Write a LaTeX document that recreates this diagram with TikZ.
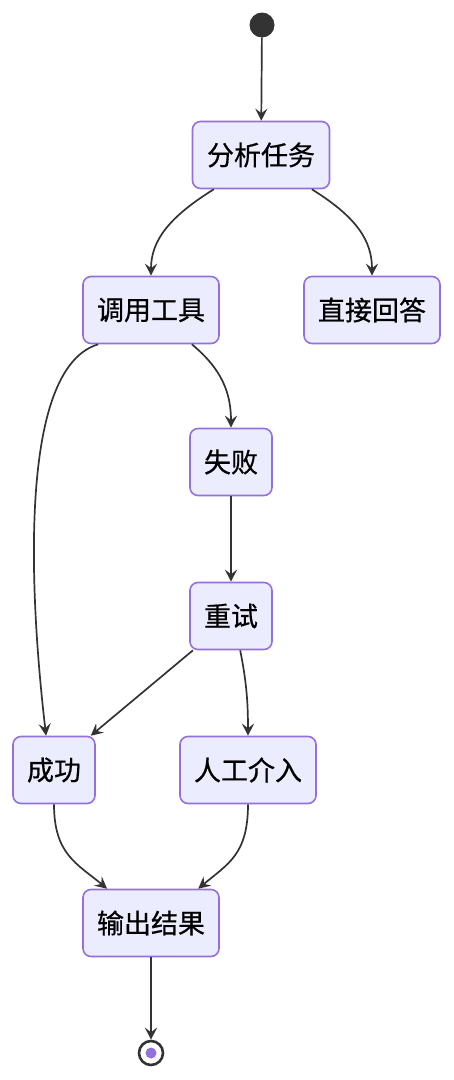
\documentclass[tikz,border=0pt]{standalone}
\usepackage{fontspec}
\newfontfamily\cjk[FakeBold=0.6]{Noto Sans CJK SC}
\usepackage{tikz}
\usetikzlibrary{arrows.meta}
\definecolor{boxfill}{HTML}{ECECFF}
\definecolor{boxline}{HTML}{9370DB}
\definecolor{edgeline}{HTML}{333333}
\begin{document}
\begin{tikzpicture}[x = 1pt, y = -1pt,
  stbox/.style = {draw = boxline, fill = boxfill, line width = 1.6pt, rounded corners = 8pt,
    minimum height = 67pt, inner sep = 0pt, font = \cjk\fontsize{27}{30}\selectfont, text = black},
  flow/.style = {draw = edgeline, line width = 1.7pt, -{Stealth[length = 12pt, width = 12pt, inset = 4.5pt]}}]
\useasboundingbox (0,0) rectangle (454,1080);
% start and end
\node[circle, fill = edgeline, minimum size = 25pt, inner sep = 0pt] (start) at (262,25) {};
\node[circle, draw = edgeline, fill = white, line width = 2.6pt, minimum size = 24pt, inner sep = 0pt] (stop) at (151,1053) {};
\fill[boxline] (stop.center) circle (5.5pt);
% states
\node[stbox, minimum width = 137pt] (fenxi) at (261,155) {分析任务};
\node[stbox, minimum width = 136pt] (diaoyong) at (151,310) {调用工具};
\node[stbox, minimum width = 136pt] (zhijie) at (372,310) {直接回答};
\node[stbox, minimum width = 82pt] (shibai) at (231,462) {失败};
\node[stbox, minimum width = 82pt] (chongshi) at (231,616) {重试};
\node[stbox, minimum width = 82pt] (chenggong) at (54,770) {成功};
\node[stbox, minimum width = 136pt] (rengong) at (248,770) {人工介入};
\node[stbox, minimum width = 136pt] (shuchu) at (151,923) {输出结果};
% transitions
\draw[flow] (start) -- (fenxi);
\draw[flow] (fenxi.216) .. controls +(-45,28) and +(0,-35) .. (diaoyong.north);
\draw[flow] (fenxi.326) .. controls +(45,28) and +(0,-35) .. (zhijie.north);
\draw[flow] (diaoyong.213) .. controls +(-90,27) and +(-10,-86) .. (chenggong.103);
\draw[flow] (diaoyong.320) .. controls +(30,25) and +(0,-35) .. (shibai.north);
\draw[flow] (shibai) -- (chongshi);
\draw[flow] (chongshi.222) -- (chenggong.43);
\draw[flow] (chongshi.285) .. controls +(6,30) and +(0,-35) .. (rengong.north);
\draw[flow] (chenggong.south) .. controls +(0,50) and +(-30,-25) .. (shuchu.142);
\draw[flow] (rengong.south) .. controls +(0,50) and +(30,-25) .. (shuchu.36.5);
\draw[flow] (shuchu) -- (stop);
\end{tikzpicture}
\end{document}
